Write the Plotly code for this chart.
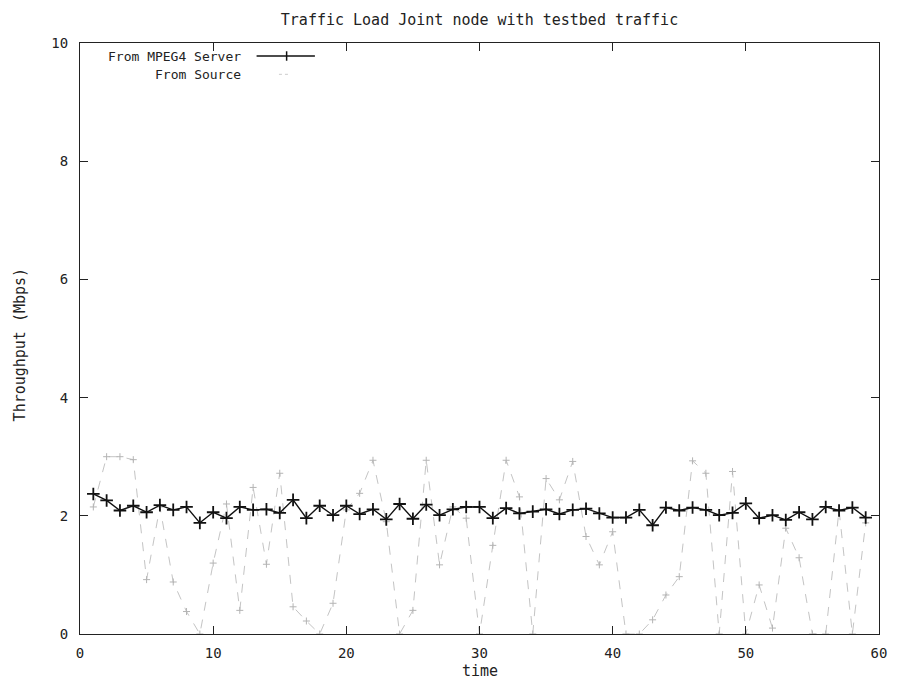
import plotly.graph_objects as go

time = list(range(1, 60))
server = [2.37, 2.26, 2.09, 2.17, 2.06, 2.18, 2.10, 2.15, 1.88, 2.06, 1.96, 2.15, 2.10, 2.11, 2.05,
          2.27, 1.96, 2.17, 2.01, 2.17, 2.03, 2.11, 1.94, 2.20, 1.95, 2.19, 2.01, 2.11, 2.15, 2.15,
          1.96, 2.13, 2.04, 2.07, 2.11, 2.03, 2.10, 2.12, 2.04, 1.97, 1.97, 2.10, 1.84, 2.14, 2.09,
          2.14, 2.10, 2.01, 2.05, 2.21, 1.96, 2.01, 1.93, 2.06, 1.94, 2.15, 2.09, 2.14, 1.97]
source = [2.15, 3.0, 3.0, 2.95, 0.92, 2.15, 0.88, 0.38, 0.0, 1.2, 2.2, 0.4, 2.48, 1.18, 2.72,
          0.46, 0.22, 0.0, 0.52, 2.1, 2.38, 2.94, 1.9, 0.0, 0.4, 2.94, 1.17, 2.15, 1.96, 0.0,
          1.5, 2.94, 2.32, 0.0, 2.63, 2.27, 2.92, 1.65, 1.17, 1.73, 0.0, 0.0, 0.24, 0.66, 0.97,
          2.93, 2.72, 0.0, 2.75, 0.0, 0.83, 0.1, 1.79, 1.29, 0.0, 0.0, 2.1, 0.0, 1.88]
x_ticks = [0, 10, 20, 30, 40, 50, 60]
y_ticks = [0, 2, 4, 6, 8, 10]

FONT = "DejaVu Sans Mono"
TXT = "#222222"
FS = 15
LFS = 13

fig = go.Figure()
fig.add_trace(go.Scatter(
    x=time, y=source, mode="lines+markers", name="From Source",
    line=dict(color="#c4c4c4", width=1, dash="dash"),
    marker=dict(symbol="cross-thin", size=5, line=dict(color="#b4b4b4", width=1)),
    showlegend=False))
fig.add_trace(go.Scatter(
    x=time, y=server, mode="lines+markers", name="From MPEG4 Server",
    line=dict(color="#111111", width=1.4),
    marker=dict(symbol="cross-thin", size=9, line=dict(color="#111111", width=1.8)),
    showlegend=False))

axis_common = dict(showgrid=False, zeroline=False, showline=True, linecolor="#222222",
                   linewidth=1, mirror="ticks", ticks="inside", ticklen=8,
                   tickcolor="#222222", tickfont=dict(family=FONT, size=14, color=TXT))
fig.update_xaxes(range=[0, 60], tickvals=x_ticks, ticklabelstandoff=6, **axis_common)
fig.update_yaxes(range=[0, 10], tickvals=y_ticks, ticklabelstandoff=8, **axis_common)

# manual gnuplot-style legend (text right-aligned, sample to the right)
fig.add_annotation(xref="paper", yref="paper", x=0.203, y=0.978, xanchor="right",
                   yanchor="middle", text="From MPEG4 Server", showarrow=False, borderpad=0,
                   font=dict(family=FONT, size=LFS, color=TXT))
fig.add_annotation(xref="paper", yref="paper", x=0.203, y=0.947, xanchor="right",
                   yanchor="middle", text="From Source", showarrow=False, borderpad=0,
                   font=dict(family=FONT, size=LFS, color=TXT))
fig.add_shape(type="line", xref="paper", yref="paper", x0=0.221, x1=0.294, y0=0.978, y1=0.978,
              line=dict(color="#111111", width=1.4))
fig.add_shape(type="line", xref="paper", yref="paper", x0=0.2586, x1=0.2586, y0=0.970, y1=0.986,
              line=dict(color="#111111", width=1.5))
fig.add_shape(type="line", xref="paper", yref="paper", x0=0.249, x1=0.262, y0=0.947, y1=0.947,
              line=dict(color="#cccccc", width=1, dash="dot"))

# axis titles
fig.add_annotation(xref="paper", yref="paper", x=0.5, y=-0.0626, xanchor="center",
                   yanchor="middle", text="time", showarrow=False,
                   font=dict(family=FONT, size=FS, color=TXT))
fig.add_annotation(xref="paper", yref="paper", x=-0.0751, y=0.49, xanchor="center",
                   yanchor="middle", text="Throughput (Mbps)", showarrow=False, textangle=-90,
                   font=dict(family=FONT, size=FS, color=TXT))

# page body has an 8px margin: size the figure so the plot box lands where the reference has it
fig.update_layout(
    width=891, height=671,
    margin=dict(l=72, r=20, t=35, b=45),
    paper_bgcolor="white", plot_bgcolor="white",
    title=dict(text="Traffic Load Joint node with testbed traffic", x=0.5, xref="paper",
               y=1 - 12 / 671, yref="container", yanchor="middle", xanchor="center",
               font=dict(family=FONT, size=FS, color=TXT)),
    showlegend=False,
)

fig.write_html("out.html")
